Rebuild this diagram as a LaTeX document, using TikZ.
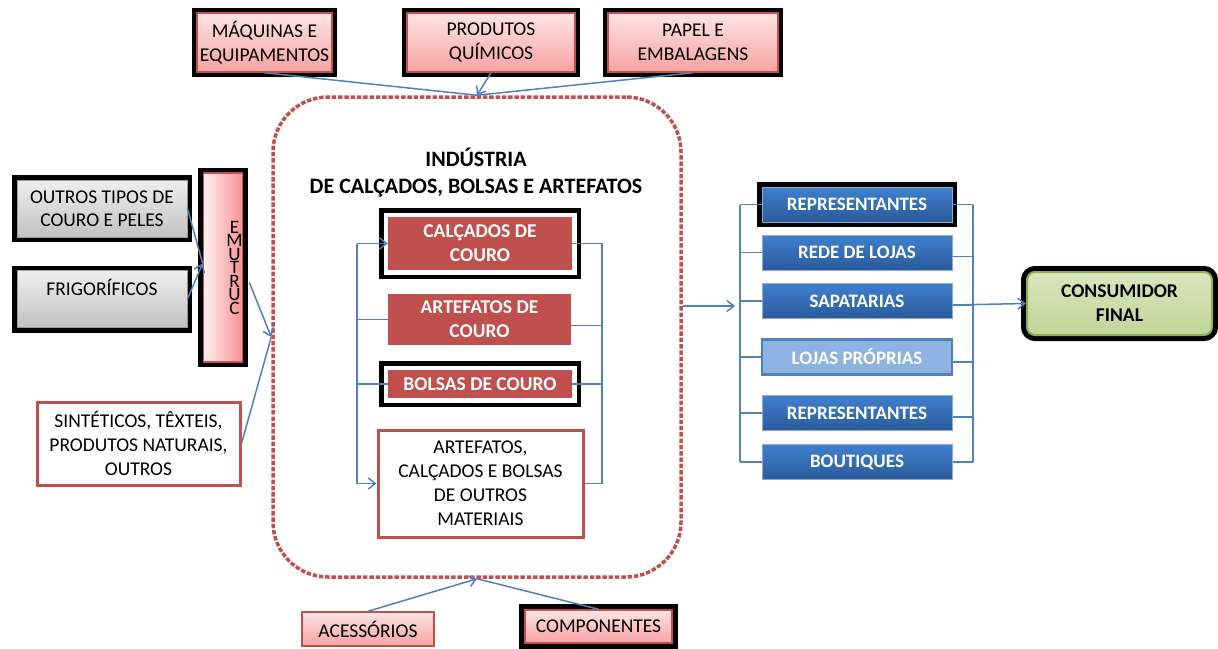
\documentclass[tikz,border=0pt]{standalone}
\usepackage{fontspec}
\setmainfont{Carlito}
\usetikzlibrary{arrows.meta}

\definecolor{linkblue}{HTML}{4F81BD}
\definecolor{boxred}{HTML}{C0504D}
\definecolor{pinktop}{HTML}{FFE4E4}
\definecolor{pinkbot}{HTML}{F6A2A2}
\definecolor{bluetop}{HTML}{3F80CF}
\definecolor{bluebot}{HTML}{2A5B99}
\definecolor{blueline}{HTML}{8EAADB}
\definecolor{lightblue}{HTML}{8DB3E2}
\definecolor{greentop}{HTML}{D9E6BE}
\definecolor{greenbot}{HTML}{C1D598}
\definecolor{greenline}{HTML}{8FAE5A}
\definecolor{graytop}{HTML}{EEEEEE}
\definecolor{graybot}{HTML}{C2C2C2}

\begin{document}
\begin{tikzpicture}[x=1pt, y=-1pt, font=\fontsize{19.5}{24}\selectfont,
  conn/.style={draw=linkblue, line width=1.5pt},
  arr/.style={conn, -{Straight Barb[length=7pt, width=11pt]}},
  blackframe/.style={preaction={draw=black, line width=#1}},
  blackframe/.default=10pt,
  whiteframe/.style={preaction={draw=black, line width=18pt},
    preaction={draw=white, line width=9pt}},
  pinkbox/.style={draw=boxred, line width=1.5pt, top color=pinktop,
    bottom color=pinkbot, align=center, inner sep=0pt},
  graybox/.style={draw=gray!80, line width=1pt, top color=graytop,
    bottom color=graybot, align=center, inner sep=0pt,
    minimum width=170pt, minimum height=57pt,
    font=\fontsize{19.5}{23}\selectfont},
  redbox/.style={fill=boxred, text=white, align=center, inner sep=0pt,
    font=\bfseries\fontsize{19.5}{24}\selectfont},
  whitebox/.style={draw=boxred, line width=3pt, fill=white, align=center,
    inner sep=0pt},
  bluebox/.style={draw=blueline, line width=1pt, top color=bluetop,
    bottom color=bluebot, text=white, inner sep=0pt,
    minimum width=190pt, minimum height=35pt,
    font=\bfseries\fontsize{19}{22}\selectfont},
  lightbox/.style={bluebox, draw=linkblue, line width=2.5pt,
    fill=lightblue, top color=lightblue, bottom color=lightblue},
  indbox/.style={draw=boxred, line width=3.5pt,
    dash pattern=on 4.5pt off 1.8pt, rounded corners=55pt}]

\useasboundingbox (0,0) rectangle (1218,648);

% industria
\node[indbox, minimum width=408pt, minimum height=480pt] (ind) at (477,337) {};
\node[align=center, font=\bfseries\fontsize{22}{27}\selectfont] (titulo) at (476,173)
  {INDÚSTRIA\\DE CALÇADOS, BOLSAS E ARTEFATOS};

\node[redbox, whiteframe, minimum width=184pt, minimum height=53pt] (calc) at (480,243.5)
  {CALÇADOS DE\\COURO};
\node[redbox, minimum width=183pt, minimum height=51pt] (artc) at (479.5,319.5)
  {ARTEFATOS DE\\COURO};
\node[redbox, whiteframe, minimum width=184pt, minimum height=28pt] (bols) at (480,384)
  {BOLSAS DE COURO};
\node[whitebox, minimum width=205pt, minimum height=107pt] (outm) at (480.5,483.5)
  {ARTEFATOS,\\CALÇADOS E BOLSAS\\DE OUTROS\\MATERIAIS};

\coordinate (lbx) at (357,0);
\coordinate (rbx) at (602,0);
\coordinate (artcr) at ([yshift=-6pt]artc.east);
\draw[conn] (lbx |- calc.west) -- (lbx |- outm.west);
\draw[arr] (lbx |- calc.west) -- (calc.west);
\draw[conn] (lbx |- artc.west) -- (artc.west);
\draw[conn] (lbx |- bols.west) -- (bols.west);
\draw[arr] (lbx |- outm.west) -- (outm.west);
\draw[conn] (calc.east) -- (rbx |- calc.east) -- (rbx |- outm.east) -- (outm.east);
\draw[conn] (artcr) -- (artcr -| rbx);
\draw[conn] (bols.east) -- (bols.east -| rbx);

% fornecedores
\node[pinkbox, blackframe, minimum width=135pt, minimum height=59pt] (maq) at (264.5,42.5)
  {MÁQUINAS E\\EQUIPAMENTOS};
\node[pinkbox, blackframe, minimum width=168pt, minimum height=59pt] (prod) at (491,42.5)
  {PRODUTOS\\QUÍMICOS};
\node[pinkbox, blackframe, minimum width=170pt, minimum height=59pt] (pap) at (693,42.5)
  {PAPEL E\\EMBALAGENS};
\draw[conn] (maq.south) -- (ind.north);
\draw[arr] (prod.south) -- (ind.north);
\draw[conn] (pap.south) -- (ind.north);

\node[pinkbox, minimum width=132pt, minimum height=34pt] (aces) at (368,629) {ACESSÓRIOS};
\node[pinkbox, blackframe=12pt, minimum width=147pt, minimum height=33pt] (comp) at (598.5,626.5)
  {COMPONENTES};
\draw[arr] (aces.north) -- (ind.south);
\draw[conn] (comp.north) -- (ind.south);

% couro
\node[graybox, blackframe] (outt) at (102,208.5) {OUTROS TIPOS DE\\COURO E PELES};
\node[graybox, blackframe] (frig) at (102,299) {FRIGORÍFICOS\\~};
\node[draw=boxred, line width=1.5pt, left color=pinktop!60!white, right color=pinkbot!90!red,
  blackframe, minimum width=38pt, minimum height=189pt, inner sep=0pt,
  font=\fontsize{19}{13.5}\selectfont] (curt) at (223,267.5)
  {\vbox{\baselineskip=13.5pt\lineskiplimit=-20pt
    \halign{\hspace*{23pt}\hfil#\hfil\cr E\cr M\cr U\cr T\cr R\cr U\cr C\cr}}};
\node[whitebox, minimum width=203pt, minimum height=83pt] (sint) at (138.5,443.5)
  {SINTÉTICOS, TÊXTEIS,\\PRODUTOS NATURAIS,\\OUTROS};

\draw[conn] (outt.east) -- ([yshift=4pt]curt.west);
\draw[arr] (frig.east) -- ([yshift=4pt]curt.west);
\draw[arr] ([shift={(6pt,-15pt)}]curt.east) -- (ind.west);
\draw[conn] (sint.east) -- (ind.west);

% distribuicao
\node[bluebox, blackframe] (rep1) at (857,204.5) {REPRESENTANTES};
\node[bluebox] (rede) at (857,252.5) {REDE DE LOJAS};
\node[bluebox] (sapa) at (857,301) {SAPATARIAS};
\node[lightbox] (loja) at (857,357) {LOJAS PRÓPRIAS};
\node[bluebox] (rep2) at (857,413) {REPRESENTANTES};
\node[bluebox] (bout) at (857,462) {BOUTIQUES};

\coordinate (dlx) at (740,0);
\coordinate (drx) at (973,0);
\coordinate (distin) at (735,306);
\draw[arr] ([yshift=31pt]ind.east) -- (distin);
\draw[conn] (dlx |- rep1.west) -- (dlx |- bout.west);
\draw[conn] (drx |- rep1.east) -- (drx |- bout.east);
\foreach \b in {rep1,rede,sapa,loja,rep2,bout}
  \draw[conn] (dlx |- \b.west) -- (\b.west);
\foreach \b/\s in {rep1/0,rede/-4,sapa/-4,loja/-5,rep2/-4,bout/0}
  \draw[conn] ([yshift=\s pt]\b.east) -- ([yshift=\s pt]drx |- \b.east);

\node[top color=greentop, bottom color=greenbot, draw=greenline, line width=2pt,
  rounded corners=8pt, blackframe=12pt, minimum width=185pt, minimum height=63pt,
  align=center, inner sep=0pt, font=\bfseries\fontsize{19.5}{24}\selectfont] (cons)
  at (1119.5,303.5) {CONSUMIDOR\\FINAL};
\draw[arr] ([yshift=-4pt]sapa.east) -- (cons.west);
\end{tikzpicture}
\end{document}
